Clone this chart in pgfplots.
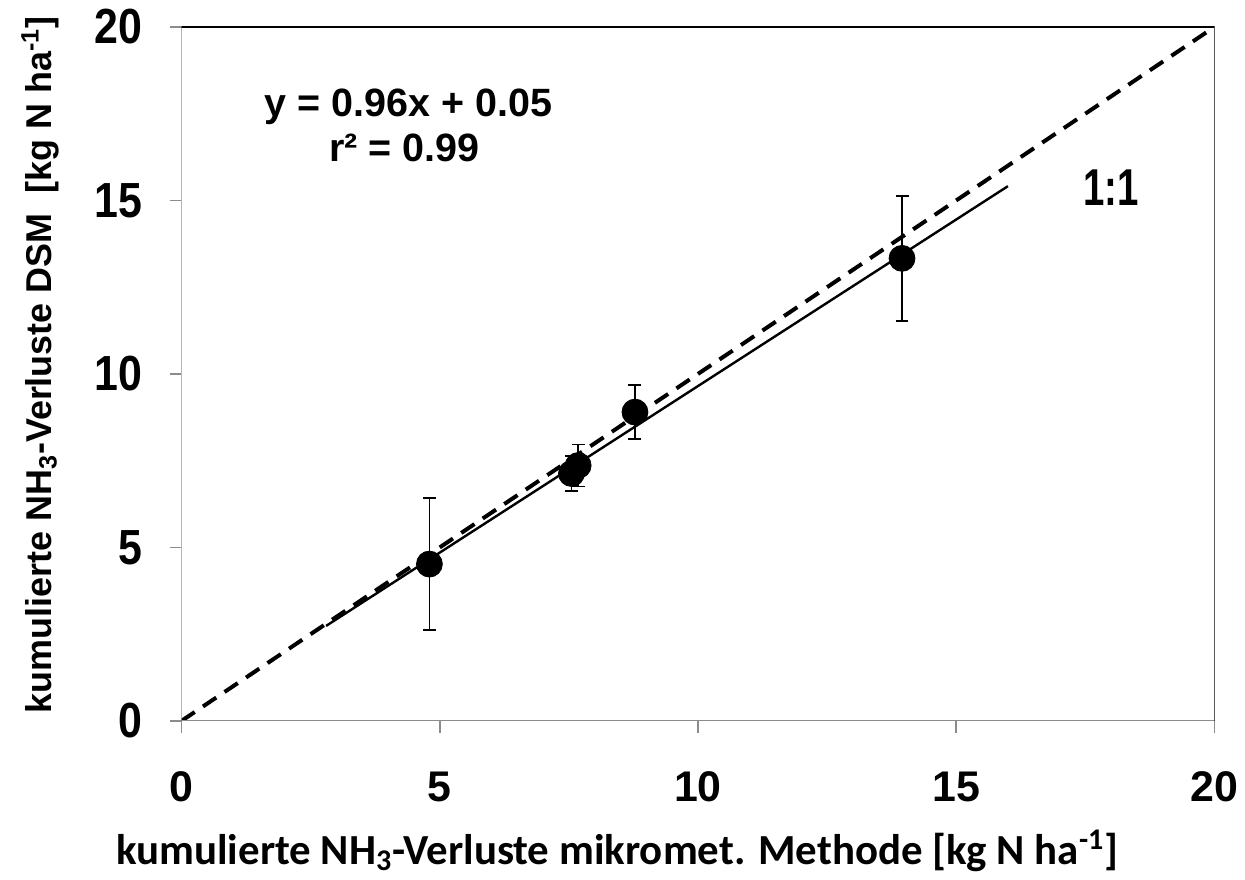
\documentclass[border=0pt]{standalone}
\usepackage{fontspec}
\setmainfont{Liberation Sans}
\newfontfamily\carlito{Carlito}
\usepackage{graphicx}
\usepackage{pgfplots}
\usepackage{pgfplotstable}
\pgfplotsset{compat=1.18}
\pgfplotstableread{
x y e
4.80 4.52 1.90
7.55 7.13 0.50
7.68 7.36 0.60
8.78 8.90 0.78
13.95 13.33 1.80
}\pts
\pgfplotstableread{
x y
2.8 2.738
16.0 15.41
}\reg
\pgfplotstableread{
x y
0 0
20 20
}\one
\begin{document}
\begin{tikzpicture}
\begin{axis}[
 scale only axis, width=518pt, height=348pt,
 xmin=0, xmax=20, ymin=0, ymax=20,
 xtick={0,5,10,15,20}, ytick={0,5,10,15,20},
 axis line style={draw=none},
 tick align=outside, xtick pos=bottom, ytick pos=left,
 major tick length=6pt,
 tick style={draw=black!45, line width=0.9pt},
 /pgf/number format/assume math mode=true,
 xticklabel style={font=\fontsize{21.5}{23}\selectfont\bfseries, anchor=center, yshift=-27pt},
 yticklabel style={font=\fontsize{21.5}{23}\selectfont\bfseries, anchor=east, xshift=-10pt},
 yticklabel={\scalebox{1}[1.15]{\pgfmathprintnumber{\tick}}},
 xlabel={\carlito\bfseries\fontsize{21.5}{23}\selectfont kumulierte NH\textsubscript{3}-Verluste mikromet. Methode [kg N ha\textsuperscript{-1}]},
 xlabel style={at={(axis description cs:0.422,-0.187)}, anchor=center},
 ylabel={\bfseries\fontsize{18}{20}\selectfont kumulierte NH\textsubscript{3}-Verluste DSM\ \ [kg N ha\textsuperscript{-1}]},
 ylabel style={at={(axis description cs:-0.137,0.513)}, anchor=center},
]
\addplot[black, line width=2pt, dash pattern=on 8pt off 5pt] table[x=x,y=y] {\one};
\addplot[black, line width=1.2pt] table[x=x,y=y] {\reg};
\addplot[only marks, mark=*, mark size=6.5pt, black,
  error bars/.cd, y dir=both, y explicit,
  error bar style={line width=0.75pt, black},
  error mark options={rotate=90, mark size=3.25pt, line width=0.75pt, black}]
  table[x=x, y=y, y error=e] {\pts};
\draw[black!45, line width=0.9pt] (rel axis cs:0,1) -- (rel axis cs:0,0) -- (rel axis cs:1,0);
\draw[black, line width=0.9pt] (rel axis cs:0,1) -- (rel axis cs:1,1) -- (rel axis cs:1,0);
\node[font=\fontsize{19.8}{21}\selectfont\bfseries] at (axis cs:4.40,17.7) {y = 0.96x + 0.05};
\node[font=\fontsize{19.8}{21}\selectfont\bfseries] at (axis cs:4.32,16.52) {r² = 0.99};
\node[font=\fontsize{26}{28}\selectfont\bfseries] at (axis cs:18.0,15.37) {\scalebox{0.74}[1]{1:1}};
\end{axis}
\path (current axis.south west) ++(-91pt,-79.5pt) coordinate (bl);
\useasboundingbox (bl) rectangle ([xshift=13.5pt,yshift=13.5pt]current axis.north east);
\end{tikzpicture}
\end{document}
